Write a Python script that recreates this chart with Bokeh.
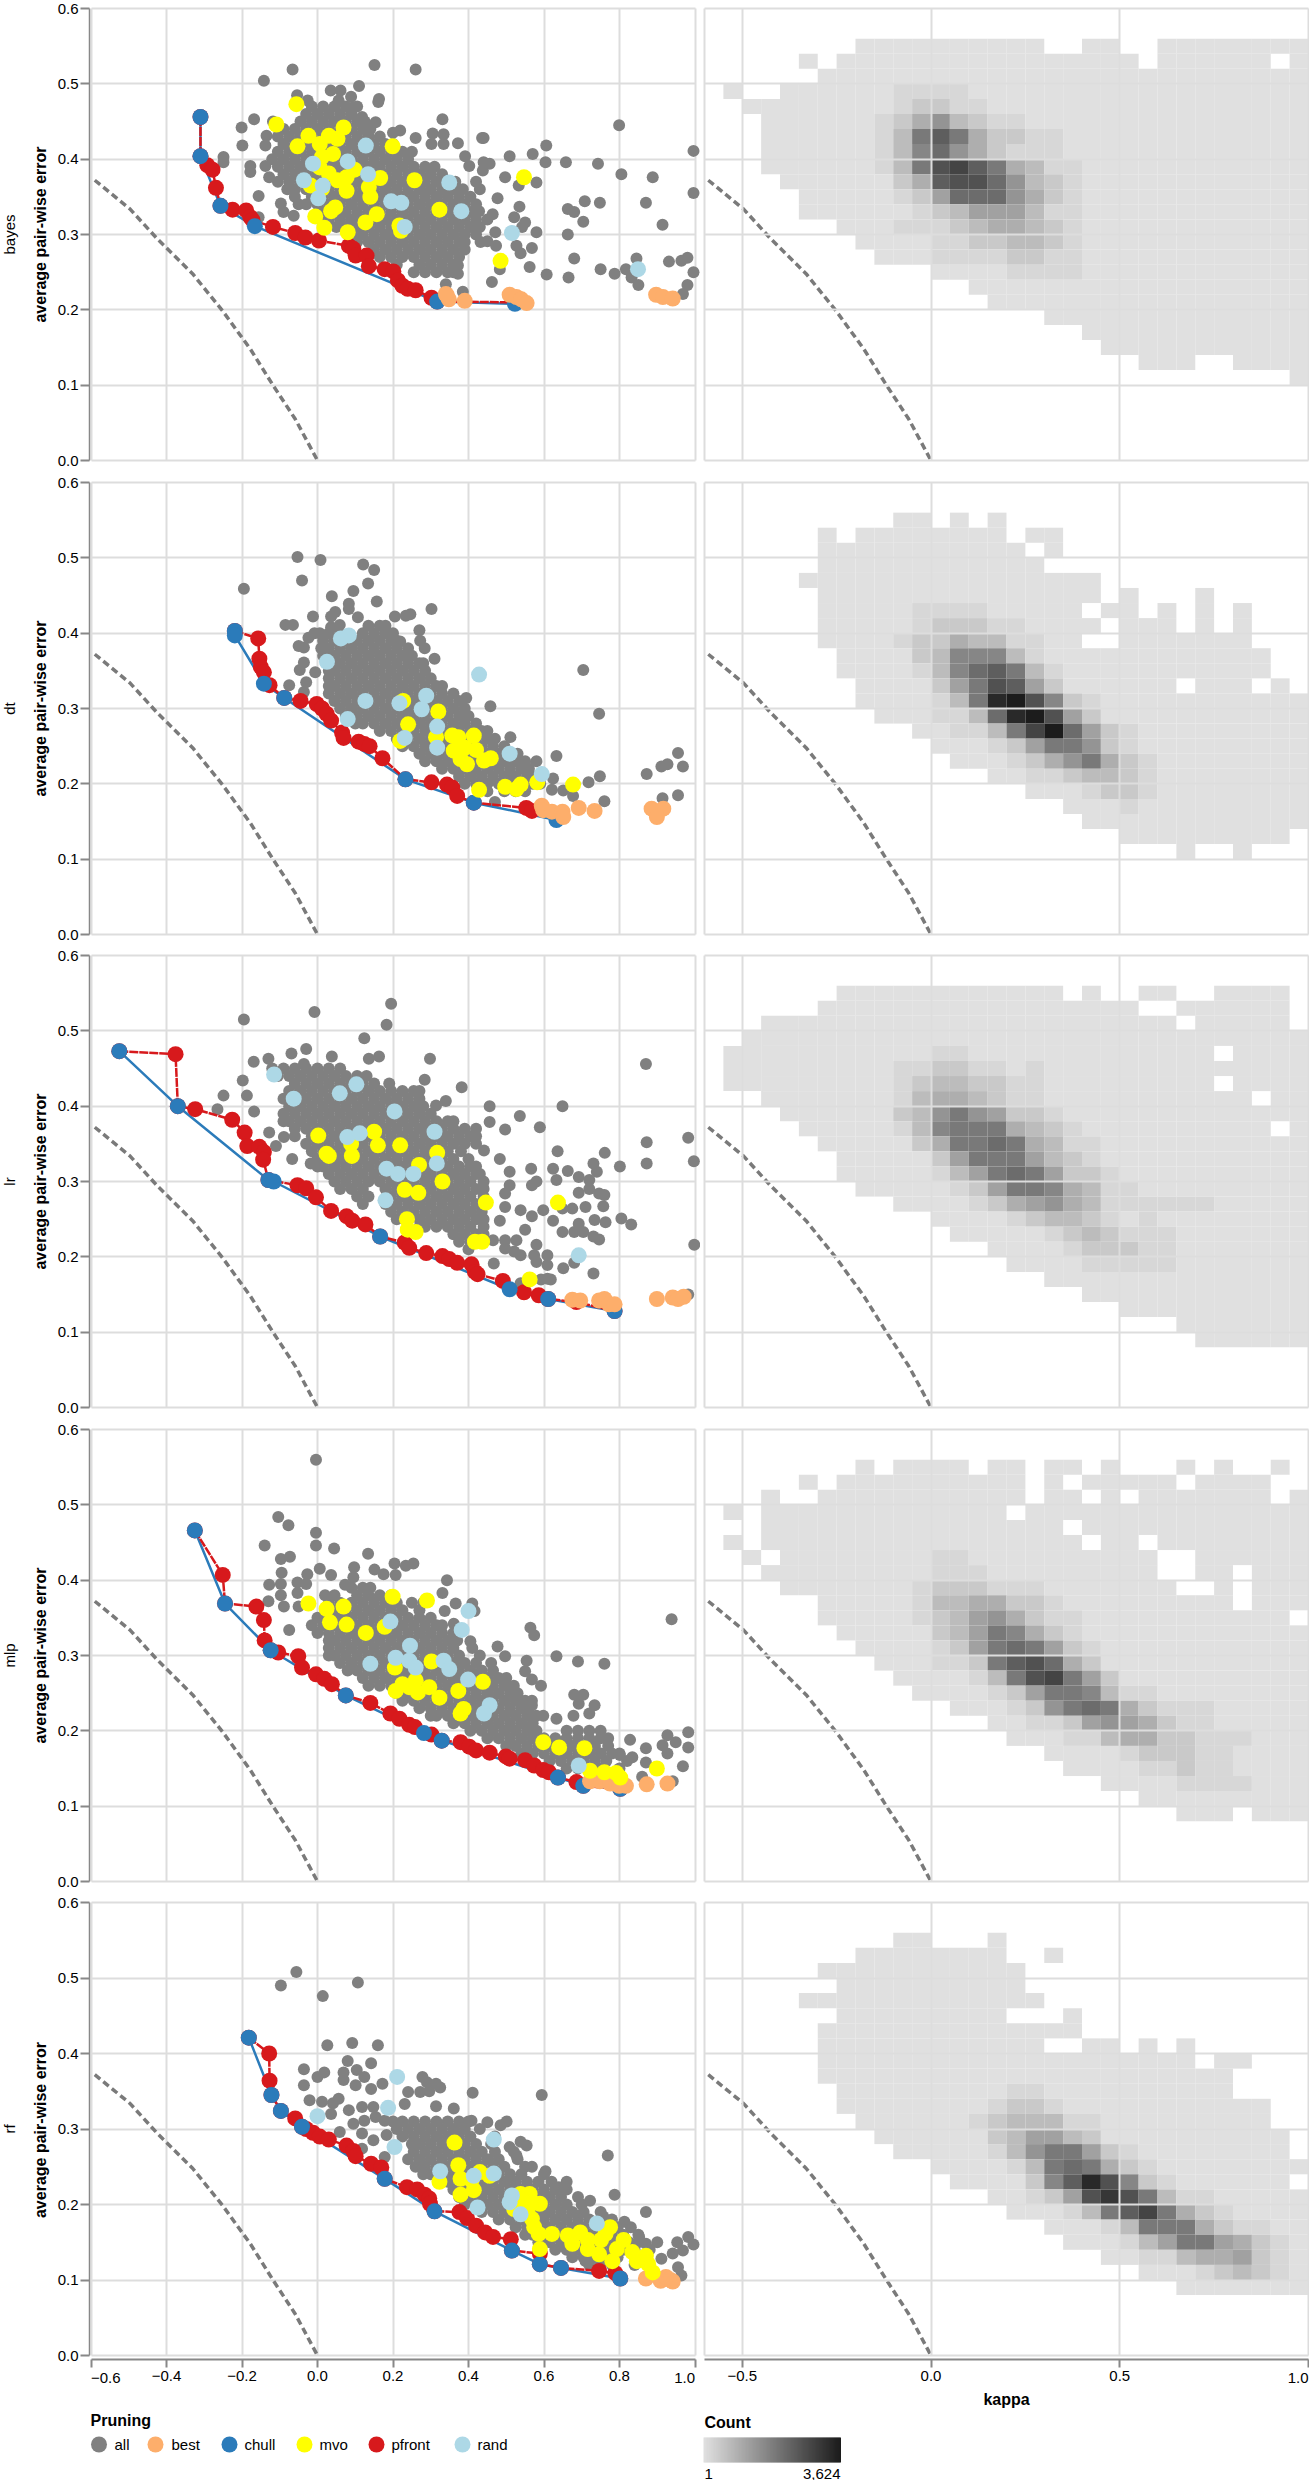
import math
from bokeh.plotting import figure
from bokeh.layouts import column, row
from bokeh.models import Range1d, Grid, LinearAxis, FixedTicker, LinearColorMapper, ColumnDataSource
from bokeh.core.properties import value
from bokeh.embed import file_html
from bokeh.resources import INLINE

models = ["bayes", "dt", "lr", "mlp", "rf"]
pruning_names = ["all", "best", "chull", "mvo", "pfront", "rand"]
pruning_colors = ["#808080", "#fdae6b", "#2b7bba", "#ffff00", "#d7191c", "#add8e6"]
x_ticks_left = [-0.6, -0.4, -0.2, 0.0, 0.2, 0.4, 0.6, 0.8, 1.0]
x_ticks_right = [-0.5, 0.0, 0.5, 1.0]
y_ticks = [0.0, 0.1, 0.2, 0.3, 0.4, 0.5, 0.6]
y_label = "average pair-wise error"
x_label = "kappa"
count_min, count_max = 1, 3624

curve_x = [-.59, -.497, -.424, -.331, -.252, -.178, -.118, -.059, 0.0]
curve_y = [.372, .334, .294, .248, .199, .148, .1, .055, 0.0]

# ---- dense clouds, one row per error level: (y, [kappa...])
bayes_rows = [
 (.47,[-.015,.015,.045,.075,.105]),(.46,[-.03,0,.03,.06,.09]),(.45,[-.045,-.015,.015,.045,.075,.105,.125]),
 (.44,[-.09,-.06,-.03,0,.03,.06,.09,.12,.14]),(.43,[-.105,-.075,-.045,-.015,.015,.045,.075,.105,.135,.165]),
 (.42,[-.09,-.06,-.03,0,.03,.06,.09,.12,.15,.18,.2]),
 (.41,[-.105,-.075,-.045,-.015,.015,.045,.075,.105,.135,.165,.195,.225,.25]),
 (.4,[-.12,-.09,-.06,-.03,0,.03,.06,.09,.12,.15,.18,.21,.24]),
 (.39,[-.105,-.075,-.045,-.015,.015,.045,.075,.105,.135,.165,.195,.225,.255,.285,.31]),
 (.38,[-.09,-.06,-.03,0,.03,.06,.09,.12,.15,.18,.21,.24,.27,.3,.33]),
 (.37,[-.105,-.075,-.045,-.015,.015,.045,.075,.105,.135,.165,.195,.225,.255,.285,.315,.345,.365]),
 (.36,[-.08,-.06,-.03,0,.03,.06,.09,.12,.15,.18,.21,.24,.27,.3,.33,.36,.385]),
 (.35,[-.06,-.015,.015,.045,.075,.105,.135,.165,.195,.225,.255,.285,.315,.345,.375,.405]),
 (.34,[-.05,-.03,0,.03,.06,.09,.12,.15,.18,.21,.24,.27,.3,.33,.36,.39,.42]),
 (.33,[-.09,.015,.045,.075,.105,.135,.165,.195,.225,.255,.285,.315,.345,.375,.405]),
 (.32,[.01,.03,.06,.09,.12,.15,.18,.21,.24,.27,.3,.33,.36,.39,.42]),
 (.31,[.05,.075,.105,.135,.165,.195,.225,.255,.285,.315,.345,.375,.405,.43]),
 (.3,[.08,.09,.12,.15,.18,.21,.24,.27,.3,.33,.36,.39,.42]),
 (.29,[.105,.135,.165,.195,.225,.255,.285,.315,.345,.375,.39]),
 (.28,[.15,.18,.21,.24,.27,.3,.33,.36,.39]),
 (.27,[.165,.195,.225,.255,.285,.315,.345,.375]),
 (.26,[.21,.27,.3,.33,.36]),(.25,[.255,.285,.315,.345,.36]),
]
bayes_spread = [(.151,.525),(.26,.519),(-.066,.519),(-.142,.504),(.11,.497),(.035,.491),(.061,.491),(-.054,.485),(-.026,.478),(.089,.483),(.163,.48),(.161,.476),(.056,.478),(.095,.469),
 (-.168,.453),(.331,.453),(.118,.456),(.154,.449),(.799,.445),(-.201,.442),(-.199,.418),(-.135,.431),(-.138,.418),(-.118,.45),(.219,.438),(.2,.435),(.26,.428),(.305,.434),(.334,.433),(.302,.42),(.334,.42),(.372,.421),(.436,.428),(.44,.428),(.606,.418),(.996,.411),(.57,.407),(.509,.404),(.391,.404),(.604,.396),(.658,.396),(.743,.394),(.805,.38),(.888,.376),(.996,.355),(.44,.396),(.456,.394),(.402,.391),(.438,.385),(.497,.376),(.58,.369),(.533,.365),(.42,.37),(.43,.36),(.477,.348),(.708,.344),(.748,.342),(.87,.342),(.535,.337),(.663,.334),(.68,.33),(.428,.331),(.464,.327),(.45,.32),(.521,.323),(.55,.316),(.704,.317),(.914,.313),(.542,.31),(.58,.303),(.663,.3),(.471,.303),(.432,.29),(.45,.291),(.473,.285),(.527,.285),(.568,.282),(.538,.275),(.68,.268),(.964,.265),(.98,.269),(.931,.264),(.845,.268),(.483,.254),(.562,.257),(.75,.254),(.817,.254),(.996,.25),(.787,.248),(.832,.243),(.607,.247),(.665,.243),(.462,.237),(.85,.233),(.98,.233),(.968,.221),(.372,.259),(.372,.248),(.34,.234),(.385,.224),(-.156,.351),(-.249,.403),(-.249,.396),(-.178,.391),(-.178,.383),(-.138,.391),(-.128,.376),(-.097,.341),(-.156,.323),(-.063,.325)]
bayes_best = [(.343,.219),(.348,.214),(.39,.212),(.509,.22),(.527,.217),(.54,.214),(.554,.209),(.897,.22),(.915,.217),(.941,.215),(.34,.221)]
bayes_chull = [(-.31,.456),(-.31,.404),(-.257,.338),(-.166,.311),(.317,.211),(.523,.208)]
bayes_pfront = [(-.31,.456),(-.31,.404),(-.292,.392),(-.278,.386),(-.269,.362),(-.257,.338),(-.225,.333),(-.189,.332),(-.178,.323),(-.172,.319),(-.118,.31),(-.059,.302),(-.032,.296),(.004,.292),(.083,.285),(.095,.281),(.101,.272),(.13,.272),(.136,.258),(.178,.254),(.201,.251),(.213,.239),(.225,.232),(.239,.228),(.26,.226),(.302,.216),(.317,.211),(.523,.21)]
bayes_mvo = [(-.056,.473),(-.109,.446),(.069,.442),(.03,.431),(-.024,.431),(.053,.427),(-.053,.417),(.006,.42),(.199,.417),(.041,.407),(.012,.403),(.006,.389),(.03,.381),(.098,.386),(.077,.376),(.053,.372),(.166,.375),(.257,.372),(.547,.376),(-.018,.365),(.077,.358),(.136,.363),(.14,.35),(.012,.361),(.323,.333),(.047,.336),(.036,.331),(-.006,.324),(.157,.327),(.127,.316),(.018,.309),(.217,.312),(.221,.305),(.08,.303),(.485,.265)]
bayes_rand = [(.128,.418),(-.012,.394),(.08,.397),(.134,.38),(-.036,.372),(.014,.365),(.002,.348),(.349,.369),(.195,.344),(.222,.342),(.381,.331),(.231,.31),(.515,.302),(.849,.254)]

dt_rows = [
 (.41,[.135,.165,.18]),(.4,[.03,.06,.12,.15,.18,.2]),(.39,[.015,.045,.075,.105,.135,.165,.195,.21]),
 (.38,[.01,.03,.06,.09,.12,.15,.18,.21,.24]),(.37,[.015,.045,.075,.105,.135,.165,.195,.225,.25]),
 (.36,[.03,.06,.09,.12,.15,.18,.21,.24,.27,.28]),(.35,[.03,.045,.075,.105,.135,.165,.195,.225,.255,.285]),
 (.34,[.03,.06,.09,.12,.15,.18,.21,.24,.27,.3]),(.33,[.03,.045,.075,.105,.135,.165,.195,.225,.255,.285,.315,.33]),
 (.32,[.03,.06,.09,.12,.15,.18,.21,.24,.27,.3,.33,.36]),(.31,[.045,.075,.105,.135,.165,.195,.225,.255,.285,.315,.345,.375]),
 (.3,[.06,.09,.12,.15,.18,.21,.24,.27,.3,.33,.36,.39]),(.29,[.075,.105,.135,.165,.195,.225,.255,.285,.315,.345,.375,.4]),
 (.28,[.1,.12,.15,.18,.21,.24,.27,.3,.33,.36,.39,.42]),(.27,[.165,.195,.225,.255,.285,.315,.345,.375,.405,.435,.45]),
 (.26,[.21,.24,.27,.3,.33,.36,.39,.42,.45,.47]),(.25,[.225,.255,.285,.315,.345,.375,.405,.435,.465,.495]),
 (.24,[.27,.3,.33,.36,.39,.42,.45,.48,.51,.53]),(.23,[.285,.315,.345,.375,.405,.435,.465,.495,.525,.55]),
 (.22,[.33,.36,.39,.42,.45,.48,.51,.54,.56]),(.21,[.375,.405,.435,.465,.495,.525,.555,.58]),
 (.2,[.39,.42,.45,.48,.51,.54,.57,.59]),(.19,[.45,.495,.525,.55]),
]
dt_spread = [(-.053,.501),(.008,.497),(.121,.491),(.15,.484),(-.195,.459),(-.041,.47),(.134,.466),(.095,.456),(.038,.449),(.157,.442),(.083,.439),(.083,.432),(.302,.432),(.047,.428),(.036,.422),(.107,.421),(.205,.422),(.234,.423),(.246,.425),(-.012,.422),(-.085,.411),(-.065,.411),(.059,.411),(.036,.408),(.27,.404),(-.008,.4),(.006,.4),(-.024,.394),(-.05,.383),(-.036,.381),(.219,.389),(.272,.39),(.284,.38),(.31,.366),(-.036,.361),(-.047,.351),(-.006,.348),(-.03,.335),(-.075,.331),(-.036,.322),(.394,.314),(.458,.303),(.704,.351),(.746,.293),(.511,.262),(.633,.237),(.58,.23),(.955,.241),(.927,.226),(.911,.223),(.968,.223),(.872,.213),(.748,.21),(.718,.202),(.624,.207),(.621,.192),(.651,.191),(.677,.184),(.914,.181),(.955,.185),(.76,.177),(.47,.176)]
dt_best = [(.594,.171),(.598,.165),(.621,.163),(.649,.163),(.651,.156),(.692,.168),(.734,.164),(.885,.167),(.916,.167),(.899,.156)]
dt_chull = [(-.219,.403),(-.219,.397),(-.142,.333),(-.088,.314),(.233,.206),(.414,.175),(.633,.152)]
dt_pfront = [(-.219,.403),(-.157,.393),(-.154,.366),(-.15,.355),(-.142,.348),(-.127,.331),(-.088,.314),(-.045,.31),(-.002,.306),(.012,.3),(.024,.293),(.036,.284),(.065,.268),(.069,.261),(.109,.256),(.124,.253),(.138,.25),(.172,.234),(.233,.206),(.302,.202),(.343,.199),(.357,.195),(.37,.184),(.414,.175),(.553,.168),(.568,.164)]
dt_mvo = [(.227,.31),(.32,.296),(.24,.279),(.219,.257),(.357,.264),(.314,.262),(.414,.264),(.373,.262),(.361,.244),(.391,.248),(.42,.245),(.379,.233),(.396,.226),(.441,.231),(.459,.234),(.428,.192),(.497,.196),(.538,.199),(.527,.193),(.582,.202),(.677,.199)]
dt_rand = [(.083,.397),(.062,.393),(.025,.362),(.127,.31),(.217,.307),(.288,.317),(.276,.299),(.08,.286),(.317,.276),(.231,.261),(.317,.248),(.428,.345),(.509,.24),(.594,.213)]

lr_rows = [
 (.45,[-.12,-.09,-.06,-.03,0,.03,.06]),(.44,[-.105,-.075,-.045,-.015,.015,.045,.075,.105,.13]),
 (.43,[-.06,-.03,0,.03,.06,.09,.12,.15,.19]),(.42,[-.075,-.045,-.015,.015,.045,.075,.105,.135,.165,.195,.225,.255,.27]),
 (.41,[-.09,-.06,-.03,0,.03,.06,.09,.12,.15,.18,.21,.24,.27]),(.4,[-.075,-.045,-.015,.015,.045,.075,.105,.135,.165,.195,.225,.255,.28]),
 (.39,[-.09,-.06,-.03,0,.03,.06,.09,.12,.15,.18,.21,.24,.27,.3]),(.38,[-.09,-.075,-.045,-.015,.015,.045,.075,.105,.135,.165,.195,.225,.255,.285,.315,.345,.36]),
 (.37,[-.06,-.03,0,.03,.06,.09,.12,.15,.18,.21,.24,.27,.3,.33,.36,.39,.42]),(.36,[-.06,-.015,.015,.045,.075,.105,.135,.165,.195,.225,.255,.285,.315,.345,.375,.405,.42]),
 (.35,[-.03,0,.03,.06,.09,.12,.15,.18,.21,.24,.27,.3,.33,.36,.39,.42]),(.34,[-.015,.015,.045,.075,.105,.135,.165,.195,.225,.255,.285,.315,.345,.38]),
 (.33,[0,.03,.06,.09,.12,.15,.18,.21,.24,.27,.3,.33,.36,.4]),(.32,[0,.015,.045,.075,.105,.135,.165,.195,.225,.255,.285,.315,.345,.375,.405,.42]),
 (.31,[.03,.06,.09,.12,.15,.18,.21,.24,.27,.3,.33,.36,.39,.42,.43]),(.3,[.045,.075,.105,.135,.165,.195,.225,.255,.285,.315,.345,.375,.405,.44]),
 (.29,[.06,.09,.12,.18,.21,.24,.27,.3,.33,.36,.39,.42,.44]),(.28,[.105,.135,.195,.225,.255,.285,.315,.345,.375,.405,.44]),
 (.27,[.12,.18,.21,.24,.27,.3,.33,.36,.39,.42]),(.26,[.195,.225,.255,.285,.315,.345,.375,.405,.435]),
 (.25,[.21,.24,.27,.3,.33,.36,.39,.42,.44]),(.24,[.27,.285,.315,.345,.375,.405,.44]),(.23,[.36,.39,.42,.44]),(.22,[.375,.405,.44]),(.21,[.4]),
]
lr_spread = [(.195,.536),(-.008,.525),(-.195,.515),(.183,.508),(.124,.49),(-.03,.476),(-.069,.47),(.038,.466),(.163,.466),(.136,.463),(.298,.463),(-.13,.463),(-.169,.459),(-.036,.456),(.87,.456),(-.198,.434),(.284,.435),(.382,.425),(-.249,.414),(-.187,.414),(-.265,.396),(-.168,.393),(.314,.401),(.34,.407),(.456,.4),(.649,.4),(.536,.387),(.456,.379),(.497,.369),(.589,.372),(-.128,.365),(-.11,.347),(-.089,.359),(-.067,.33),(-.018,.324),(.872,.352),(.982,.358),(.997,.327),(.872,.324),(.801,.32),(.636,.34),(.761,.338),(.483,.33),(.441,.341),(.566,.317),(.624,.317),(.663,.314),(.509,.313),(.731,.324),(.74,.313),(.692,.306),(.633,.302),(.58,.3),(.568,.295),(.509,.295),(.438,.293),(.692,.285),(.72,.302),(.72,.29),(.497,.284),(.497,.266),(.76,.282),(.746,.284),(.757,.267),(.71,.266),(.675,.264),(.649,.264),(.598,.262),(.538,.262),(.568,.254),(.734,.249),(.763,.246),(.805,.251),(.831,.243),(.692,.244),(.624,.248),(.483,.248),(.55,.236),(.649,.233),(.68,.233),(.704,.233),(.731,.227),(.746,.223),(.465,.222),(.497,.222),(.527,.222),(.58,.216),(.998,.216),(.497,.211),(.521,.207),(.538,.202),(.574,.202),(.609,.202),(.467,.191),(.58,.193),(.609,.189),(.68,.192),(.651,.185),(.731,.178),(.609,.171),(.592,.17),(.618,.17),(.538,.165),(.982,.15)]
lr_best = [(.675,.143),(.696,.142),(.746,.142),(.76,.144),(.772,.137),(.787,.137),(.899,.144),(.941,.146),(.955,.144),(.97,.147)]
lr_chull = [(-.525,.473),(-.37,.4),(-.13,.302),(-.116,.3),(.166,.227),(.509,.157),(.611,.144),(.787,.128)]
lr_pfront = [(-.525,.473),(-.376,.469),(-.37,.4),(-.324,.396),(-.226,.382),(-.193,.365),(-.186,.347),(-.154,.346),(-.142,.339),(-.144,.329),(-.13,.302),(-.053,.295),(-.03,.291),(-.004,.279),(.036,.261),(.077,.254),(.092,.248),(.127,.243),(.166,.227),(.231,.219),(.243,.212),(.288,.205),(.331,.201),(.349,.197),(.37,.192),(.408,.19),(.417,.18),(.424,.177),(.491,.168),(.547,.153),(.586,.149),(.611,.144),(.686,.14),(.787,.128)]
lr_mvo = [(.002,.361),(.024,.337),(.03,.334),(.089,.35),(.091,.334),(.15,.366),(.16,.348),(.219,.348),(.317,.338),(.269,.322),(.331,.3),(.231,.289),(.267,.285),(.446,.272),(.237,.25),(.239,.236),(.26,.233),(.417,.22),(.436,.22),(.562,.17),(.637,.272)]
lr_rand = [(-.115,.442),(-.063,.41),(.059,.417),(.103,.429),(.204,.393),(.31,.366),(.079,.359),(.112,.364),(.183,.317),(.213,.31),(.254,.31),(.316,.324),(.18,.275),(.692,.202)]

mlp_rows = [
 (.39,[.09,.12,.14]),(.38,[.02,.045,.105,.135,.165,.195]),(.37,[.03,.06,.09,.12,.15,.18,.21,.25,.28]),
 (.36,[.045,.075,.105,.135,.165,.195,.225,.27]),(.35,[0,.03,.06,.09,.12,.15,.18,.21,.24,.27,.3]),
 (.34,[-.015,.015,.045,.075,.105,.135,.165,.195,.225,.255,.285,.315,.33]),(.33,[0,.03,.06,.09,.12,.15,.18,.21,.24,.27,.3,.33,.36]),
 (.32,[.03,.045,.075,.105,.135,.165,.195,.225,.255,.285,.315,.345,.37]),(.31,[.03,.06,.09,.12,.15,.18,.21,.24,.27,.3,.33,.36,.41]),
 (.3,[.03,.045,.075,.105,.135,.165,.195,.225,.255,.285,.315,.345,.375,.43]),(.29,[.06,.09,.12,.15,.18,.21,.24,.27,.3,.33,.36,.39,.42,.46]),
 (.28,[.08,.105,.135,.165,.195,.225,.255,.285,.315,.345,.375,.405,.435,.465]),(.27,[.12,.15,.18,.21,.24,.27,.3,.33,.36,.39,.42,.45,.48,.5]),
 (.26,[.135,.165,.195,.225,.255,.285,.315,.345,.375,.405,.435,.465,.495,.52]),(.25,[.21,.24,.27,.3,.33,.36,.39,.42,.45,.48,.51,.53]),
 (.24,[.225,.255,.285,.315,.345,.375,.405,.435,.465,.495,.525,.55]),(.23,[.27,.3,.33,.36,.39,.42,.45,.48,.51,.54,.56]),
 (.22,[.3,.315,.345,.375,.405,.435,.465,.495,.525,.555,.58]),(.21,[.36,.39,.42,.45,.48,.51,.54,.57]),
 (.2,[.405,.435,.465,.495,.525,.555,.58,.66,.69,.72,.75]),(.19,[.45,.48,.51,.54,.57,.6,.63,.66,.69,.72,.75,.77]),
 (.18,[.5,.525,.555,.585,.615,.645,.675,.705,.735,.77]),(.17,[.54,.57,.6,.63,.66,.69,.72,.75,.78,.8]),
 (.16,[.615,.645,.675,.705,.735,.765,.82]),(.15,[.66,.69,.72,.75,.8]),
]
mlp_spread = [(-.004,.56),(-.104,.484),(-.077,.473),(-.004,.463),(-.004,.446),(-.14,.446),(.044,.442),(.134,.435),(-.097,.428),(-.073,.431),(.204,.422),(.254,.422),(.234,.419),(.097,.417),(.151,.414),(-.095,.41),(.175,.408),(.207,.407),(-.027,.408),(.006,.415),(.036,.407),(.343,.4),(-.128,.394),(-.097,.395),(-.053,.397),(-.03,.395),(.095,.404),(.073,.394),(.331,.383),(-.097,.38),(-.053,.383),(-.13,.372),(-.089,.365),(-.05,.365),(.366,.369),(.41,.369),(.337,.359),(.416,.359),(.361,.342),(.938,.348),(-.075,.334),(.564,.337),(.574,.327),(.405,.319),(.477,.312),(.497,.299),(.633,.299),(.69,.292),(.76,.289),(.554,.293),(.55,.279),(.568,.268),(.592,.26),(.68,.248),(.704,.248),(.692,.236),(.734,.234),(.72,.223),(.678,.22),(.633,.216),(.598,.22),(.568,.24),(.568,.234),(.982,.198),(.927,.194),(.914,.181),(.949,.185),(.982,.178),(.927,.17),(.828,.188),(.87,.177),(.801,.168),(.834,.165),(.87,.158),(.968,.153),(.86,.139),(.941,.133)]
mlp_best = [(.722,.133),(.748,.133),(.775,.13),(.799,.127),(.817,.127),(.872,.129),(.927,.13)]
mlp_chull = [(-.325,.466),(-.245,.369),(-.124,.307),(.075,.247),(.282,.197),(.329,.187),(.637,.138),(.704,.127),(.802,.123)]
mlp_pfront = [(-.325,.466),(-.251,.407),(-.245,.369),(-.162,.365),(-.142,.347),(-.14,.32),(-.124,.307),(-.104,.304),(-.051,.299),(-.041,.284),(-.004,.275),(.018,.269),(.038,.262),(.075,.247),(.14,.237),(.193,.223),(.217,.216),(.243,.208),(.258,.205),(.302,.195),(.329,.187),(.379,.185),(.402,.179),(.42,.174),(.456,.171),(.499,.166),(.509,.163),(.55,.161),(.574,.154),(.598,.148),(.613,.145),(.637,.138),(.686,.132),(.704,.127),(.802,.123)]
mlp_mvo = [(-.024,.369),(.024,.362),(.069,.365),(.033,.344),(.077,.341),(.128,.33),(.178,.338),(.199,.378),(.29,.373),(.205,.284),(.302,.292),(.225,.262),(.207,.253),(.26,.267),(.243,.258),(.266,.251),(.296,.258),(.323,.244),(.373,.253),(.438,.265),(.379,.223),(.387,.229),(.598,.185),(.64,.178),(.707,.177),(.722,.147),(.76,.145),(.791,.144),(.802,.138),(.899,.15)]
mlp_rand = [(.193,.345),(.4,.359),(.382,.334),(.245,.313),(.14,.289),(.207,.297),(.243,.293),(.26,.284),(.334,.293),(.349,.282),(.399,.268),(.456,.234),(.441,.223),(.692,.154)]

rf_rows = [
 (.31,[.2,.225,.255,.285,.315,.345,.375,.4]),(.3,[.21,.24,.27,.3,.33,.36,.39,.43]),(.29,[.225,.255,.285,.315,.345,.375,.405,.47]),
 (.28,[.25,.27,.3,.33,.36,.39,.42,.46]),(.27,[.255,.285,.315,.345,.375,.405,.435,.47,.52]),(.26,[.24,.27,.3,.33,.36,.39,.42,.45,.48,.53]),
 (.25,[.26,.285,.315,.345,.375,.405,.435,.465,.495,.55]),(.24,[.28,.3,.33,.36,.39,.42,.45,.48,.51,.54,.6]),
 (.23,[.33,.345,.375,.405,.435,.465,.495,.525,.555,.585,.62]),(.22,[.36,.39,.42,.45,.48,.51,.54,.57,.6,.63,.66]),
 (.21,[.375,.405,.435,.465,.495,.525,.555,.585,.615,.645,.69]),(.2,[.39,.42,.45,.48,.51,.54,.57,.6,.63,.66,.7]),
 (.19,[.435,.465,.495,.525,.555,.585,.615,.645,.675,.705,.75]),(.18,[.48,.51,.54,.57,.6,.63,.66,.69,.72,.75,.78]),
 (.17,[.525,.555,.585,.615,.645,.675,.705,.735,.765,.795,.83]),(.16,[.55,.57,.6,.63,.66,.69,.72,.75,.78,.81,.85]),
 (.15,[.585,.615,.645,.675,.705,.735,.765,.795,.825,.85]),(.14,[.63,.66,.69,.72,.75,.78,.81,.84,.88]),
 (.13,[.675,.705,.735,.765,.795,.85]),(.12,[.72,.75,.78,.84]),
]
rf_spread = [(-.056,.508),(-.097,.49),(.107,.494),(.014,.476),(.026,.411),(.092,.414),(.16,.411),(.08,.39),(.142,.387),(-.036,.379),(.018,.375),(0,.369),(.069,.375),(.104,.378),(.069,.365),(.101,.358),(.124,.369),(-.036,.358),(.142,.353),(.172,.36),(.278,.369),(.29,.362),(.314,.36),(.325,.355),(.272,.349),(.296,.35),(.24,.349),(.231,.333),(.411,.348),(.594,.345),(.314,.33),(-.021,.338),(.012,.336),(.056,.34),(.041,.334),(.083,.325),(.118,.329),(.148,.329),(.036,.32),(.059,.296),(.095,.307),(.124,.311),(.154,.316),(.178,.311),(.118,.294),(.148,.285),(.183,.292),(.118,.274),(.178,.263),(.361,.327),(.408,.311),(.45,.309),(.501,.31),(.485,.305),(.538,.283),(.554,.278),(.509,.276),(.769,.265),(.527,.265),(.568,.25),(.604,.244),(.66,.23),(.639,.223),(.722,.205),(.787,.213),(.87,.19),(.757,.184),(.813,.177),(.982,.157),(.996,.147),(.953,.15),(.9,.15),(.87,.148),(.852,.157),(.941,.135),(.968,.139),(.955,.117),(.964,.106),(.911,.128),(.71,.125),(.657,.152)]
rf_best = [(.87,.102),(.909,.099),(.935,.1),(.941,.098),(.923,.104)]
rf_chull = [(-.182,.421),(-.122,.345),(-.097,.324),(-.041,.303),(.178,.234),(.31,.191),(.515,.139),(.589,.121),(.645,.116),(.802,.102)]
rf_pfront = [(-.182,.421),(-.128,.4),(-.127,.364),(-.122,.345),(-.097,.324),(-.059,.314),(-.041,.303),(-.03,.3),(-.012,.295),(.006,.29),(.03,.286),(.077,.278),(.095,.271),(.101,.264),(.142,.254),(.169,.249),(.178,.234),(.237,.223),(.264,.22),(.284,.213),(.296,.208),(.298,.201),(.31,.191),(.376,.19),(.396,.182),(.42,.172),(.444,.163),(.465,.157),(.512,.154),(.515,.139),(.589,.135),(.589,.121),(.645,.116),(.746,.112),(.789,.109),(.802,.102)]
rf_mvo = [(.363,.282),(.373,.252),(.379,.234),(.43,.243),(.456,.238),(.323,.23),(.408,.232),(.414,.219),(.379,.213),(.538,.214),(.562,.214),(.538,.203),(.568,.203),(.589,.201),(.521,.194),(.556,.192),(.568,.181),(.574,.17),(.586,.161),(.589,.141),(.621,.161),(.663,.159),(.696,.163),(.675,.148),(.716,.153),(.716,.141),(.746,.134),(.751,.153),(.775,.17),(.763,.161),(.811,.153),(.793,.141),(.781,.125),(.834,.137),(.846,.125),(.87,.132),(.888,.11),(.876,.121)]
rf_rand = [(.211,.369),(.187,.328),(0,.317),(.204,.276),(.467,.286),(.325,.244),(.414,.238),(.467,.241),(.515,.212),(.509,.203),(.424,.196),(.538,.187),(.74,.175)]

# ---- binned counts: one string per error bin (0.02 wide, from row 2 down), one char per kappa bin (0.05 wide);
#      '.' = no data, hex digit = index into count_levels
count_levels = [1, 16, 64, 145, 258, 403, 580, 789, 1031, 1304, 1610, 1949, 2319, 2722, 3157, 3624]
bayes_bins = [
 "........0000000000..00..00000000", ".....0.0000000000000000.000000.0", "......"+"0"*26,
 ".0..000000"+"1111"+"0"*18, "..0000000"+"0"+"12211"+"0"*17, "...00000"+"0"+"12463211"+"0"*15,
 "...000000"+"138a842211"+"0"*13, "...000000"+"1379642111"+"0"*13, "...000000"+"138bca84311"+"0"*12,
 "....000000"+"24abb96321"+"0"*12, ".....00000"+"1259996421"+"0"*12, ".....000000"+"123555311"+"0"*12,
 ".......000"+"1112344321"+"0"*12, "........000"+"011223321"+"0"*12, ".........000"+"11112211"+"0"*12,
 "."*12+"0000"+"1111"+"0"*12, "."*14+"0"*18, "."*15+"0"*17, "."*18+"0"*14, "."*20+"0"*12, "."*21+"0"*11,
 "."*23+"000..0000", "."*31+"0",
]
dt_bins = [
 ".........."+"00.0.0"+"."*16, "......0.00000000.00"+"."*13, "......"+"0"*11+".0"+"."*13, "......"+"0"*12+"."*14,
 "....."+"0"*16+"."*11, "......"+"0"*15+".0...0.....", "......0000"+"0111100000"+".00.0.0.0...",
 "......0000"+"01222110000"+".000.0.0...", "......000"+"01224331100"+"..0000000...",
 ".......000"+"023777310"+"0"*11+"..", ".......00"+"00137"+"9a8310"+"0"*10+"..",
 "........000"+"025"+"8ba5200"+"0000.000.0.", "........0000"+"138efb7210"+"0"*10,
 ".........00"+"0113"+"9efb520"+"0"*10, "."*11+"0"+"0113"+"8cf9521"+"0"*9, "."*12+"000"+"125886210"+"0"*8,
 "."*13+"000"+"12468421"+"0"*8, "."*15+"00"+"1123321"+"0"*8, "."*17+"000"+"1221"+"0"*8, "."*19+"000"+"1"+"0"*9,
 "."*20+"0"*12, "."*22+"0"*9+".", "."*25+"0..0...",
]
lr_bins = [
 ".......000000000000.0..00..0000.", "......"+"0"*17+"..000000.", "..."+"0"*22+".00000.", ".."+"0"*30,
 "."+"0"*9+"00110"+"0"*12+".0000", "."+"0"*8+"011221101"+"0"*14, "."+"0"*9+"123322110"+"0"*8+".0000",
 "..."+"0"*7+"134432110"+"0"*10+".00", "...."+"0"*5+"0236865221"+"0"*13, "....."+"0"*5+"13788843210"+"0"*9+".0",
 "......0000"+"02488984311"+"0"*11, ".......0000"+"0258885321"+"0"*11, ".......00000"+"1358985221"+"0"*10,
 "........0000"+"01258874311"+"0"*9, "."*10+"000"+"01245643111"+"111"+"0"*5, "."*12+"0000"+"12332101"+"0"*8,
 "."*13+"00000"+"1232111"+"0"*7, "."*15+"0000"+"122211"+"0"*7, "."*16+"0000"+"11111"+"0"*7, "."*18+"0"*14, "."*20+"0"*12,
 "."*22+"0"*10, "."*25+"0"*7, "."*26+"0"*6,
]
mlp_bins = [
 "........0.0000.00.00.0...0.0..0.", ".....0.0000000000.0.00000.0000..", "...0..00000000000.00.0.0000000.0",
 ".0."+"0"*13+"."+"0"*15, "..."+"0"*16+"."+"0"*12, ".0."+"0"*17+".00.00000000", "..0."+"0"*8+"11"+"0"*10+"..000000",
 "..."+"0"*9+"111"+"0"*9+"..00.000", "...."+"0"*7+"1222111"+"0"*7+"..0.000", "......00000"+"13344221"+"0"*9+".000",
 "......00000"+"123564211"+"0"*11+".", ".......00000"+"23587421"+"0"*12, "........0000"+"125898521"+"0"*11,
 ".........000"+"1128ab9420"+"0"*10, ".........."+"000"+"0138bc8520"+"0"*9, "."*11+"0000"+"125887311"+"0"*8,
 "."*13+"000"+"12689842111"+"0"*5, "."*15+"00"+"1125654211"+"0"*5, "."*16+"000"+"1134422111"+"0"*3,
 "."*18+"0000"+"122211"+"0"*4, "."*19+"0000"+"11211"+"0"*4, "."*21+"0000"+"1111"+"0"*3, "."*23+"0"*9, "."*25+"000.000",
]
rf_bins = [
 ".........."+"00...0"+"."*16, "........00000000..0"+"."*13, "......"+"0"*11+"."*15, "......."+"0"*10+"."*15,
 "....."+"0"*13+"."*14, "......."+"0"*9+"...0"+"."*12, "......"+"0"*14+"."*12, "......"+"0"*12+"..00.0.0......",
 "......"+"0"*20+".00...", "......"+"0"*22+"....", "......."+"0"*9+"11"+"0"*10+"....", "......."+"0"*8+"12210"+"0"*10+"..",
 "........000000"+"1233311"+"0"*9+"..", ".........000000"+"235532"+"0"*10+".", ".........."+"00000"+"13688521"+"0"*8+".",
 "."*12+"000"+"013898421"+"0"*8, "."*13+"000"+"027aeb7210"+"0"*5+".", "."*15+"0"+"0125bdb8311"+"0"*5,
 "."*16+"00"+"01"+"38ac8421"+"0"+"000", "."*18+"00"+"0138884211"+"00", "."*19+"00"+"0135885421"+"0", "."*21+"00"+"113445210",
 "."*23+"00"+"0123210", "."*25+"0"*7,
]

spreads = dict(bayes=(bayes_rows, bayes_spread), dt=(dt_rows, dt_spread), lr=(lr_rows, lr_spread),
               mlp=(mlp_rows, mlp_spread), rf=(rf_rows, rf_spread))
marks = dict(
    bayes=dict(best=bayes_best, chull=bayes_chull, pfront=bayes_pfront, mvo=bayes_mvo, rand=bayes_rand),
    dt=dict(best=dt_best, chull=dt_chull, pfront=dt_pfront, mvo=dt_mvo, rand=dt_rand),
    lr=dict(best=lr_best, chull=lr_chull, pfront=lr_pfront, mvo=lr_mvo, rand=lr_rand),
    mlp=dict(best=mlp_best, chull=mlp_chull, pfront=mlp_pfront, mvo=mlp_mvo, rand=mlp_rand),
    rf=dict(best=rf_best, chull=rf_chull, pfront=rf_pfront, mvo=rf_mvo, rand=rf_rand))
bins = dict(bayes=bayes_bins, dt=dt_bins, lr=lr_bins, mlp=mlp_bins, rf=rf_bins)
colour = dict(zip(pruning_names, pruning_colors))

FONT = "Liberation Sans"
GRID = "#dddddd"
AXIS = "#888888"
PX = 377.5                      # pixels per kappa unit
# page rows: y of 0.6, y of 0.0, top of figure, figure height
ROWS = [(8, 460, 0, 474), (482, 934, 474, 473), (955, 1407, 947, 474), (1429, 1881, 1421, 473), (1902, 2355, 1894, 516)]

ramp = [f"#{g:02x}{g:02x}{g:02x}" for g in [round(224 - (224 - 28) * i / 255) for i in range(256)]]
mapper = LinearColorMapper(palette=ramp, low=math.sqrt(count_min), high=math.sqrt(count_max))

def xy(pairs):
    return [p[0] for p in pairs], [p[1] for p in pairs]

def base_figure(k, left):
    top, bottom, ftop, fh = ROWS[k]
    last = k == len(ROWS) - 1
    py = (bottom - top) / 0.6
    pad_b = 4 if last else 2
    if left:
        xr = Range1d(-0.6 - 1.5 / PX, 1.0 + 5.5 / PX)
        w, bl = 700, 89
    else:
        xr = Range1d(-0.6 - 1.0 / PX, 1.0 + 1.0 / PX)
        w, bl = 609, 3
    yr = Range1d(-pad_b / py, 0.6 + 2 / py)
    p = figure(width=w, height=fh, x_range=xr, y_range=yr, x_axis_type=None, y_axis_type=None,
               toolbar_location=None, output_backend="svg", min_border_left=bl, min_border_right=0,
               min_border_top=top - 2 - ftop, min_border_bottom=ftop + fh - (bottom + pad_b),
               outline_line_color=None, background_fill_color=None, border_fill_color=None)
    ticks = x_ticks_left if left else x_ticks_right
    all_x = x_ticks_left if left else [-0.6] + x_ticks_right
    lvl = "underlay" if left else "overlay"
    p.add_layout(Grid(dimension=0, ticker=FixedTicker(ticks=all_x), grid_line_color=GRID, grid_line_width=2,
                      cross_bounds=(0.0, 0.6), level=lvl))
    p.add_layout(Grid(dimension=1, ticker=FixedTicker(ticks=y_ticks), grid_line_color=GRID, grid_line_width=2,
                      cross_bounds=(-0.6, 1.0), level=lvl))
    if left:
        ax = LinearAxis(ticker=FixedTicker(ticks=y_ticks), bounds=(0.0, 0.6),
                        major_label_overrides={t: f"{t:.1f}" for t in y_ticks},
                        axis_label=y_label, axis_label_text_font=FONT, axis_label_text_font_size="16px",
                        axis_label_text_font_style="bold", axis_label_text_color="#000000", axis_label_standoff=6,
                        major_label_text_font=FONT, major_label_text_font_size="15px", major_label_text_color="#000000",
                        major_label_standoff=2, major_tick_out=9, major_tick_in=0, minor_tick_out=0, minor_tick_in=0,
                        major_tick_line_color=AXIS, major_tick_line_width=2, axis_line_color=AXIS, axis_line_width=1.5)
        p.add_layout(ax, "left")
    if last:
        # the two end labels are flush with the axis ends; they are written on the overlay below
        over = {t: f"{t:.1f}".replace("-", "\u2212") for t in ticks}
        over[1.0] = ""
        if left:
            over[-0.6] = ""
        ax = LinearAxis(ticker=FixedTicker(ticks=ticks), bounds=(-0.6, 1.0), major_label_overrides=over,
                        major_label_text_font=FONT, major_label_text_font_size="15px", major_label_text_color="#000000",
                        major_label_standoff=3, major_tick_out=8, major_tick_in=0, minor_tick_out=0, minor_tick_in=0,
                        major_tick_line_color=AXIS, major_tick_line_width=2, axis_line_color=AXIS, axis_line_width=2)
        if not left:
            ax.axis_label = x_label
            ax.axis_label_text_font = FONT
            ax.axis_label_text_font_size = "16px"
            ax.axis_label_text_font_style = "bold"
            ax.axis_label_text_color = "#000000"
            ax.axis_label_standoff = 7
        p.add_layout(ax, "below")
    return p

def dashed(p):
    p.line(curve_x, curve_y, line_color="#7a7a7a", line_width=3.5, line_dash="7 4")

def scatter_panel(name, k):
    p = base_figure(k, True)
    dashed(p)
    rows_, extra = spreads[name]
    gx = [x for y, xs in rows_ for x in xs] + [q[0] for q in extra]
    gy = [y for y, xs in rows_ for x in xs] + [q[1] for q in extra]
    p.scatter(gx, gy, size=12, color=colour["all"], line_color=None)
    m = marks[name]
    hx, hy = xy(m["chull"])
    fx, fy = xy(m["pfront"])
    p.line(hx, hy, line_color=colour["chull"], line_width=2.5)
    p.line(fx, fy, line_color=colour["pfront"], line_width=2.5, line_dash="9 1")
    for s in ["pfront", "chull", "best", "mvo", "rand"]:
        sx, sy = xy(m[s])
        p.scatter(sx, sy, size=16, color=colour[s], line_color=None)
    return p

def heat_panel(name, k):
    p = base_figure(k, False)
    left, right, bottom, top, root = [], [], [], [], []
    for r, line in enumerate(bins[name]):
        line = line.ljust(32, ".")[:32]
        for c, ch in enumerate(line):
            if ch == ".":
                continue
            left.append(-0.6 + 0.05 * c)
            right.append(-0.6 + 0.05 * (c + 1))
            top.append(0.6 - 0.02 * (r + 2))
            bottom.append(0.6 - 0.02 * (r + 3))
            root.append(math.sqrt(count_levels[int(ch, 16)]))
    src = ColumnDataSource(dict(left=left, right=right, top=top, bottom=bottom, root=root))
    p.quad(left="left", right="right", top="top", bottom="bottom", source=src,
           fill_color={"field": "root", "transform": mapper}, line_color=None)
    dashed(p)
    return p

rows_ = [row(scatter_panel(n, i), heat_panel(n, i), spacing=0) for i, n in enumerate(models)]

# transparent page-sized overlay in page pixels: row names, flush end labels and both legends
leg = figure(width=1309, height=2480, x_range=Range1d(0, 1309), y_range=Range1d(2480, 0), x_axis_type=None,
             y_axis_type=None, toolbar_location=None, output_backend="svg", min_border=0, outline_line_color=None,
             background_fill_color=None, border_fill_color=None, margin=(-2410, 0, 0, 0))
txt = dict(text_font=value(FONT), text_font_size="15px", text_color="#000000", text_baseline="middle")
leg.text([8.5] * 5, [(r[0] + r[1]) / 2 for r in ROWS], text=models, angle=math.pi / 2, text_align="center", **txt)
leg.text([90.5, 1308], [2377, 2377], text=["\u22120.6", "1.0"], text_align=["left", "right"], **txt)
leg.text([694.5], [2377], text=["1.0"], text_align="right", **txt)
sym_x = [98.5, 155, 229, 304, 376, 462]
txt_x = [114, 171, 244, 319, 391, 477]
leg.scatter(sym_x, [2444] * 6, size=16, color=pruning_colors, line_color=None)
leg.text(txt_x, [2444] * 6, text=pruning_names, text_align="left", **txt)
leg.text([90, 704], [2420, 2422], text=["Pruning", "Count"], text_font=value(FONT), text_font_size="16px",
         text_font_style="bold", text_color="#000000", text_align="left", text_baseline="middle")
steps = list(range(137))
leg.quad(left=[703 + i for i in steps], right=[704.5 + i for i in steps], top=[2437] * 137, bottom=[2462] * 137,
         fill_color=[ramp[round(i * 255 / 136)] for i in steps], line_color=None)
leg.text([704], [2473], text=[f"{count_min}"], text_align="left", **txt)
leg.text([840], [2473], text=[f"{count_max:,}"], text_align="right", **txt)

page = column(*rows_, leg, spacing=0)
open("out.html", "w").write(file_html(page, INLINE))
